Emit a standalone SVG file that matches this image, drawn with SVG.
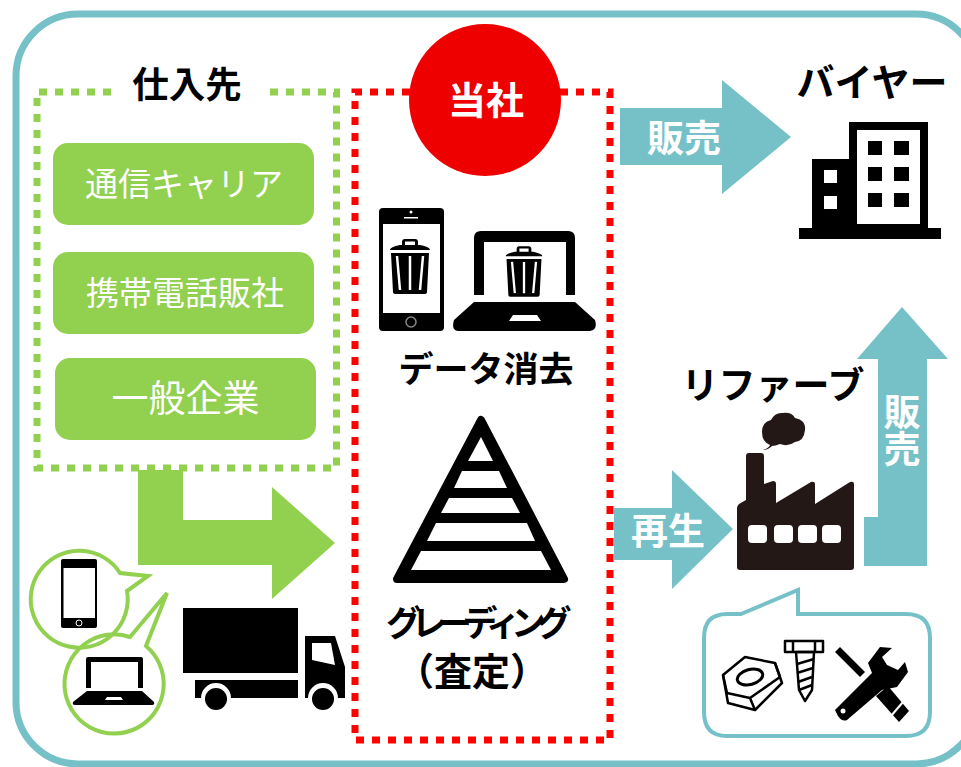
<svg xmlns="http://www.w3.org/2000/svg" xmlns:xlink="http://www.w3.org/1999/xlink" width="961" height="767" viewBox="0 0 961 767">
<style>
text{font-family:"Noto Sans CJK JP","Noto Sans",sans-serif;text-anchor:middle}
.b{font-weight:700;fill:#000}
.w{fill:#fff;font-weight:400}
.wb{fill:#fff;font-weight:700}
.teal{fill:#76c1c7}
.green{fill:#92d050}
.k{fill:#000}
.kw{fill:#fff}
</style>
<defs>
<g id="trash">
<path class="k" fill-rule="evenodd" d="M-20-17Q-20-20-10-22H-8V-25Q-8-28-5-28H5Q8-28 8-25V-22H10Q20-20 20-17ZM-5-25.500V-22H5V-25.500Z"/>
<path class="k" d="M-19-14H19L17 25Q17 27 14 27H-14Q-17 27-17 25Z"/>
<path d="M-13-11L-10 23M0-11V23M13-11L10 23" stroke="#fff" stroke-width="2.500" fill="none"/>
</g>
</defs>
<rect width="961" height="767" fill="#fff"/>
<rect id="frame" x="16" y="14" width="962" height="750" rx="62" fill="none" stroke="#76c1c7" stroke-width="7"/>

<g id="connectors">
<path class="green" d="M138 470H183V520H272V487L335 543L272 599V565H138Z"/>
<path class="teal" d="M620 108H722V80L791 137L722 194V165H620Z"/>
<path class="teal" d="M614 508H672V470L733 529L672 589V560H614Z"/>
<path class="teal" d="M864 566V517H878V359H857L902 307L948 359H927V566Z"/>
</g>

<g id="supplier">
<path d="M111 92H37V468H336.500V92H270" fill="none" stroke="#92d050" stroke-width="7" stroke-dasharray="8 8"/>
<text class="b" x="187" y="98" font-size="36.500">仕入先</text>
<g id="carrier"><rect class="green" x="53" y="143" width="261" height="82" rx="15"/><text class="w" x="184" y="196" font-size="33">通信キャリア</text></g>
<g id="shop"><rect class="green" x="53" y="252" width="261" height="82" rx="15"/><text class="w" x="185" y="305" font-size="33">携帯電話販社</text></g>
<g id="company"><rect class="green" x="55" y="358" width="261" height="82" rx="15"/><text class="w" x="185.500" y="412" font-size="37">一般企業</text></g>
</g>

<g id="bubbles">
<path d="M120 573A48.500 48.500 0 1 0 127 591L148 576Z" fill="none" stroke="#92d050" stroke-width="4"/>
<path d="M130 637A49.600 49.600 0 1 0 146 646L167 593Z" fill="none" stroke="#92d050" stroke-width="4"/>
<g id="phone-small"><rect class="k" x="61" y="559" width="36" height="69" rx="2"/><rect class="kw" x="63.500" y="568" width="31.500" height="50"/><circle cx="79" cy="623" r="3" fill="none" stroke="#fff"/></g>
<g id="laptop-small"><path class="k" d="M86 688V659Q86 657 88 657H141Q143 657 143 659V688H138V662H91V688Z"/><path class="k" d="M87 691H142L154 702Q155 705 152 705H75Q72 705 73 702Z"/><path class="kw" d="M107 697H121L123 700H105Z"/></g>
</g>

<g id="truck">
<rect class="k" x="183" y="608" width="115" height="65"/>
<path class="k" d="M195 680H298V698H231A15 15 0 0 0 201 698H195Z"/>
<path class="k" d="M305 636H335L345 667V698H338A15 15 0 0 0 308 698H305Z"/>
<path class="kw" d="M312 643H331L335 665L312 660Z"/>
<circle class="k" cx="216" cy="699" r="11"/>
<circle class="k" cx="323" cy="699" r="11"/>
</g>

<g id="company-self">
<path d="M410 92H355V740H610V92H560" fill="none" stroke="#f00" stroke-width="7" stroke-dasharray="8 8"/>
<circle cx="485" cy="100" r="76" fill="#ee0000"/>
<text class="wb" x="486" y="114" font-size="38">当社</text>
</g>

<g id="data-erase">
<rect class="k" x="379" y="208" width="65" height="123" rx="4"/>
<rect class="kw" x="383" y="224" width="57" height="89"/>
<circle cx="411" cy="322" r="5" fill="none" stroke="#888" stroke-width="1.500"/>
<circle cx="411" cy="212" r="1.500" fill="#fff"/>
<rect x="404" y="217" width="14" height="1.500" fill="#fff"/>
<use xlink:href="#trash" href="#trash" transform="translate(410 267)"/>
<path class="k" d="M474 295V238Q474 231 481 231H568Q575 231 575 238V295H566V242H484V295Z"/>
<path class="k" d="M474 302H575L595 320Q598 330 590 331H458Q451 330 454 320Z"/>
<path class="kw" d="M513 315H537L541 321H509Z"/>
<use xlink:href="#trash" href="#trash" transform="translate(524 272) scale(.92)"/>
<text class="b" x="486" y="382" font-size="35">データ消去</text>
</g>

<g id="grading">
<path fill="#000" stroke="#000" stroke-width="8" stroke-linejoin="round" d="M481 420L564 579H397Z"/>
<path class="kw" d="M481 437L493 461H468Z"/>
<path class="kw" d="M462 471H499L507 488H454Z"/>
<path class="kw" d="M449 498H512L520 513H441Z"/>
<path class="kw" d="M436 523H527L535 541H427Z"/>
<path class="kw" d="M421 551H541L551 570H411Z"/>
<text class="b" x="474" y="636" font-size="35" letter-spacing="-9.500">グレーディング</text>
<text class="b" x="472" y="685" font-size="38">（査定）</text>
</g>

<text class="wb" x="684" y="152" font-size="37">販売</text>
<text class="wb" x="668" y="545" font-size="37">再生</text>
<text class="wb" x="896" y="430" font-size="37" style="writing-mode:vertical-rl" dominant-baseline="middle">販売</text>

<g id="buyer">
<text class="b" x="872" y="96" font-size="38">バイヤー</text>
<path class="k" d="M849 122H928V228H941V239H799V228H812V159H849Z"/>
<rect class="kw" x="857" y="130" width="63" height="94"/>
<g class="k">
<rect x="868" y="141" width="14" height="14"/><rect x="894" y="141" width="15" height="14"/>
<rect x="868" y="167" width="14" height="14"/><rect x="894" y="167" width="15" height="14"/>
<rect x="868" y="193" width="14" height="14"/><rect x="894" y="193" width="15" height="14"/>
</g>
<rect class="kw" x="824" y="170" width="13" height="13"/>
<rect class="kw" x="824" y="196" width="13" height="13"/>
</g>

<g id="refurb">
<text class="b" x="773" y="399" font-size="37">リファーブ</text>
<path fill="#231815" d="M746 456Q746 453 749 453H761Q764 453 764 456V484L773 481Q776 481 776 484V503L811 482Q815 481 815 484V504L850 482Q854 481 854 484V567Q854 570 851 570H740Q737 570 737 567V508Q737 506 739 504L746 500Z"/>
<g class="kw">
<rect x="748" y="525" width="19" height="18" rx="4"/><rect x="774" y="525" width="19" height="18" rx="4"/><rect x="798" y="525" width="19" height="18" rx="4"/><rect x="822" y="525" width="19" height="18" rx="4"/>
</g>
<path fill="#231815" d="M763 450Q769 448 770 445Q762 442 762 432Q762 422 771 420Q775 412 783 413Q792 412 795 418Q806 420 805 430Q804 441 795 442Q788 447 780 444Q775 446 772 446Q768 450 763 450Z"/>
</g>

<g id="parts">
<path d="M741 614L798 590V614H906Q930 614 930 638V712Q930 736 906 736H727Q704 736 704 712V638Q704 614 727 614Z" fill="#fff" stroke="#76c1c7" stroke-width="4"/>
<g id="nut" fill="none" stroke="#000" stroke-width="2.500" stroke-linejoin="round">
<path d="M723 675L745 657L775 663L782 683L755 710L728 703Z"/>
<path d="M723 675L727 693L750 698L755 710M750 698L780 677M775 663L780 677"/>
<ellipse cx="750" cy="677" rx="13" ry="7.500" transform="rotate(-15 750 677)" stroke-width="3"/>
</g>
<g id="bolt" fill="none" stroke="#000" stroke-width="2.500" stroke-linejoin="round">
<rect x="785" y="641" width="38" height="11"/>
<path d="M793 641V652M815 641V652"/>
<path d="M796 652H814L812 690L805 701L799 690Z"/>
<path d="M797 664L814 659M797 673L813 668M798 682L812 677M799 690L812 685"/>
</g>
<g id="tools" class="k">
<path d="M835 652L840 647L865 672L860 677Z"/>
<path d="M876 696L888 686L909 711L899 722Z"/>
<path d="M868 663L880 647L892 648L882 657L887 665L898 670L905 662L908 672L897 687L882 690L847 720Q842 722 838 716L835 710L872 673Z"/>
</g>
<circle class="kw" cx="843" cy="711" r="2.500"/>
<path d="M891 716L903 702" stroke="#fff" stroke-width="2"/>
</g>
</svg>
